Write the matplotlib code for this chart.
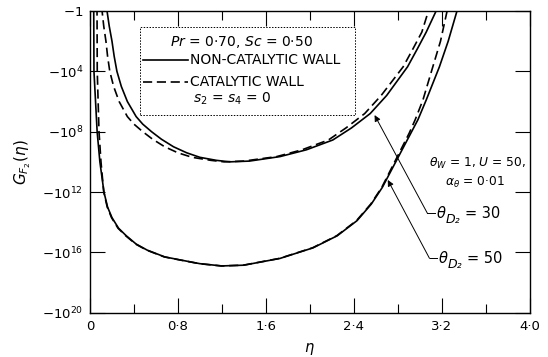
import numpy as np
import matplotlib
matplotlib.use("Agg")
import matplotlib.pyplot as plt
from matplotlib.patches import Rectangle
from matplotlib.lines import Line2D

# ---- data: eta and log10(-G) (decades) ----
dec_30 = [-0.3, 0.0, 1.0, 2.0, 3.0, 4.0, 5.0, 6.0, 7.0, 7.5, 8.0, 8.5, 9.0, 9.4, 9.7, 9.9, 10.0,
          9.95, 9.65, 9.2, 8.55, 7.75, 6.8, 5.6, 3.7, 2.5, 1.4, 0.0, -0.3]
# theta_D2 = 30, non-catalytic wall (solid)
eta_30_nc = [0.150, 0.155, 0.175, 0.200, 0.220, 0.245, 0.285, 0.340, 0.420, 0.480, 0.560, 0.650, 0.760,
             0.880, 1.000, 1.150, 1.270,
             1.450, 1.730, 1.970, 2.210, 2.380, 2.550, 2.700, 2.890, 2.980, 3.060, 3.150, 3.170]
# theta_D2 = 30, catalytic wall (dashed)
eta_30_c = [0.105, 0.110, 0.125, 0.145, 0.160, 0.180, 0.215, 0.265, 0.340, 0.400, 0.480, 0.570, 0.680,
            0.800, 0.930, 1.100, 1.220,
            1.400, 1.700, 1.930, 2.170, 2.330, 2.500, 2.650, 2.850, 2.940, 3.020, 3.080, 3.100]

dec_50 = [-0.3, 0.0, 4.0, 8.0, 10.0, 12.0, 13.0, 13.7, 14.4, 14.9, 15.45, 15.85, 16.3,
          16.5, 16.75, 16.9, 16.85, 16.4, 15.7, 14.9, 13.9, 12.8, 11.7, 9.9, 8.1, 7.2,
          5.9, 3.7, 2.0, 0.0, -0.3]
# theta_D2 = 50, non-catalytic wall (solid)
eta_50_nc = [0.034, 0.034, 0.036, 0.065, 0.090, 0.127, 0.160, 0.200, 0.260, 0.330, 0.420, 0.520, 0.680,
             0.820, 1.000, 1.200, 1.400, 1.730, 2.030, 2.250, 2.430, 2.560, 2.660, 2.790, 2.920, 2.985,
             3.060, 3.180, 3.260, 3.340, 3.355]
# theta_D2 = 50, catalytic wall (dashed)
eta_50_c = [0.063, 0.064, 0.066, 0.082, 0.100, 0.125, 0.157, 0.196, 0.255, 0.325, 0.415, 0.515, 0.675,
            0.815, 0.995, 1.195, 1.395, 1.725, 2.025, 2.245, 2.425, 2.555, 2.655, 2.780, 2.905, 2.960,
            3.030, 3.120, 3.190, 3.250, 3.265]

x_ticks = [0, 0.8, 1.6, 2.4, 3.2, 4.0]
x_tick_labels = ["0", "0·8", "1·6", "2·4", "3·2", "4·0"]
y_tick_exps = [0, 4, 8, 12, 16, 20]
y_tick_labels = [r"$-1$", r"$-10^{4}$", r"$-10^{8}$", r"$-10^{12}$", r"$-10^{16}$", r"$-10^{20}$"]
theta_D2_values = ["30", "50"]


def to_G(dec):
    return -(10.0 ** np.asarray(dec, dtype=float))


def fwd(y):
    return -np.log10(np.maximum(np.abs(y), 1e-300))


def inv(v):
    return -(10.0 ** (-np.asarray(v, dtype=float)))


plt.rcParams["font.family"] = ["DejaVu Sans"]
fig = plt.figure(figsize=(5.48, 3.57), dpi=100)
ax = fig.add_axes([90 / 548, 1 - 312.7 / 357, 439.5 / 548, 301.7 / 357])
ax.set_yscale("function", functions=(fwd, inv))

lw = 1.2
dsh = (5.5, 2.8)
ax.plot(eta_30_nc, to_G(dec_30), color="black", lw=lw)
ax.plot(eta_30_c, to_G(dec_30), color="black", lw=lw, dashes=dsh)
ax.plot(eta_50_nc, to_G(dec_50), color="black", lw=lw)
ax.plot(eta_50_c, to_G(dec_50), color="black", lw=lw, dashes=dsh)

ax.set_xlim(0, 4.0)
ax.set_ylim(-1e20, -1)
ax.set_xticks(x_ticks)
ax.set_xticklabels(x_tick_labels, fontsize=9.5)
ax.set_xticks(np.arange(0.4, 4.0, 0.8), minor=True)
ax.set_yticks(to_G(y_tick_exps))
ax.set_yticklabels(y_tick_labels, fontsize=9.5)
ax.yaxis.set_minor_locator(matplotlib.ticker.NullLocator())
ax.tick_params(which="major", direction="in", length=10.5, width=0.8, top=True, right=True, pad=5)
ax.tick_params(which="minor", direction="in", length=6.5, width=0.8, top=True, right=True)
for s in ax.spines.values():
    s.set_linewidth(1.0)

ax.set_xlabel(r"$\eta$", fontsize=10.5, labelpad=6)
ax.set_ylabel(r"$G_{F_2}(\eta)$", fontsize=11, labelpad=6)

# legend box
T = ax.transAxes
fs_leg = 10
ax.add_patch(Rectangle((0.1138, 0.655), 0.603 - 0.1138, 0.947 - 0.655, transform=T,
                       fill=False, ls=(0, (1.5, 1.5)), lw=0.7, color="black"))
ax.text(0.3436, 0.897, r"$Pr$ = 0·70, $Sc$ = 0·50", transform=T, ha="center", va="center", fontsize=fs_leg)
ax.add_line(Line2D([0.1206, 0.2230], [0.837, 0.837], transform=T, color="black", lw=lw))
ax.text(0.2275, 0.837, "NON-CATALYTIC WALL", transform=T, ha="left", va="center", fontsize=fs_leg)
ax.add_line(Line2D([0.1206, 0.2230], [0.765, 0.765], transform=T, color="black", lw=lw, dashes=dsh))
ax.text(0.2275, 0.765, "CATALYTIC WALL", transform=T, ha="left", va="center", fontsize=fs_leg)
ax.text(0.323, 0.708, r"$s_2$ = $s_4$ = 0", transform=T, ha="center", va="center", fontsize=fs_leg)

# parameter text
ax.text(3.53, to_G(10.1)[()], r"$\theta_W$ = 1, $U$ = 50,", ha="center", va="center", fontsize=8.8)
ax.text(3.50, to_G(11.35)[()], r"$\alpha_\theta$ = 0·01", ha="center", va="center", fontsize=8.8)

# theta_D2 annotations
ann_style = dict(arrowstyle="-|>", lw=0.7, color="black", mutation_scale=9, shrinkA=0, shrinkB=0)
arrow_tips = [(2.59, 6.9), (2.71, 11.2)]
elbows = [(3.07, 13.4), (3.09, 16.4)]
for val, (tx, td), (ex, ed) in zip(theta_D2_values, arrow_tips, elbows):
    ax.annotate("", xy=(tx, to_G(td)[()]), xytext=(ex, to_G(ed)[()]), arrowprops=ann_style)
    ax.plot([ex, ex + 0.07], to_G([ed, ed]), color="black", lw=0.7)
    y0 = to_G(ed)[()]
    x0 = ex + 0.07
    ax.annotate("θ", xy=(x0, y0), xytext=(1, 0), textcoords="offset points",
                ha="left", va="center", fontsize=10.5, fontstyle="italic")
    ax.annotate("D₂", xy=(x0, y0), xytext=(7.5, -4.5), textcoords="offset points",
                ha="left", va="center", fontsize=9, fontstyle="italic")
    ax.annotate("= " + val, xy=(x0, y0), xytext=(21.5, 0), textcoords="offset points",
                ha="left", va="center", fontsize=10.5)

fig.savefig("out.png", dpi=100)
